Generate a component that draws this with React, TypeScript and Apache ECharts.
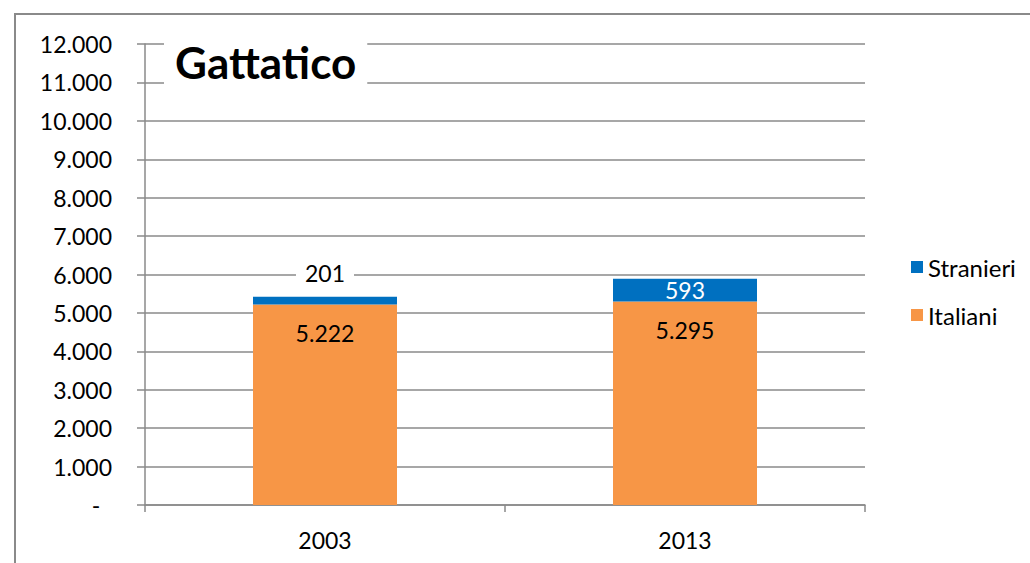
import React, { useEffect, useRef } from "react";
import * as echarts from "echarts";

const categories = ["2003", "2013"];
const italiani = [5222, 5295];
const stranieri = [201, 593];
const titleText = "Gattatico";
const seriesNames = ["Italiani", "Stranieri"];
const yMax = 12000;
const yStep = 1000;

const FONT = "Lato, 'Open Sans', sans-serif";
const GRAY = "#8a8a8a";
const ORANGE = "#F79646";
const BLUE = "#0070C0";

const fmt = (v: number) =>
  v === 0 ? "-\u00a0\u00a0" : String(v).replace(/\B(?=(\d{3})+(?!\d))/g, ".");

export default function App() {
  const ref = useRef<HTMLDivElement>(null);
  useEffect(() => {
    if (!ref.current) return;
    const chart = echarts.init(ref.current, undefined, { renderer: "svg" });
    chart.setOption({
      animation: false,
      backgroundColor: "#fff",
      textStyle: { fontFamily: FONT },
      title: {
        text: titleText,
        left: 164,
        top: 37,
        padding: [3, 11],
        backgroundColor: "#fff",
        textStyle: { fontFamily: FONT, fontWeight: "bold", fontSize: 44, color: "#000" },
      },
      legend: {
        data: [seriesNames[1], seriesNames[0]],
        orient: "vertical",
        left: 906,
        top: 250,
        itemWidth: 12,
        itemHeight: 12,
        itemGap: 24,
        itemTextGap: 8,
        icon: "rect",
        textStyle: { fontFamily: FONT, fontSize: 24, color: "#000" },
      },
      graphic: [
        {
          type: "rect",
          shape: { x: 15, y: 14, width: 1100, height: 600 },
          style: { fill: "none", stroke: GRAY, lineWidth: 2 },
          silent: true,
          z: -1,
        },
      ],
      grid: { left: 145, top: 44, width: 720, height: 461 },
      xAxis: {
        type: "category",
        data: categories,
        axisLine: { lineStyle: { color: GRAY, width: 1.5 } },
        axisTick: { show: true, length: 7, alignWithLabel: false, lineStyle: { color: GRAY, width: 1.5 } },
        axisLabel: { fontFamily: FONT, fontSize: 23, color: "#000", margin: 23 },
      },
      yAxis: {
        type: "value",
        min: 0,
        max: yMax,
        interval: yStep,
        axisLine: { show: true, lineStyle: { color: GRAY, width: 1.5 } },
        axisTick: { show: true, length: 8, lineStyle: { color: GRAY, width: 1.5 } },
        splitLine: { show: true, lineStyle: { color: GRAY, width: 1.5 } },
        axisLabel: { fontFamily: FONT, fontSize: 23, color: "#000", margin: 33, formatter: fmt },
      },
      series: [
        {
          name: seriesNames[0],
          type: "bar",
          stack: "tot",
          barWidth: "40%",
          itemStyle: { color: ORANGE },
          data: italiani,
          label: {
            show: true,
            position: "insideTop",
            distance: 17,
            fontFamily: FONT,
            fontSize: 23,
            color: "#000",
            formatter: (p: any) => fmt(p.value),
          },
        },
        {
          name: seriesNames[1],
          type: "bar",
          stack: "tot",
          barWidth: "40%",
          itemStyle: { color: BLUE },
          data: stranieri.map((v, i) =>
            i === 0
              ? {
                  value: v,
                  label: {
                    position: "top",
                    distance: 12,
                    color: "#000",
                    backgroundColor: "#fff",
                    padding: [0, 9],
                  },
                }
              : { value: v, label: { position: "inside", color: "#fff" } }
          ),
          label: {
            show: true,
            fontFamily: FONT,
            fontSize: 23,
            formatter: (p: any) => fmt(p.value),
          },
        },
      ],
    });
    return () => chart.dispose();
  }, []);
  return (
    <div
      ref={ref}
      style={{ position: "fixed", left: 0, top: 0, width: 1030, height: 563 }}
    />
  );
}
